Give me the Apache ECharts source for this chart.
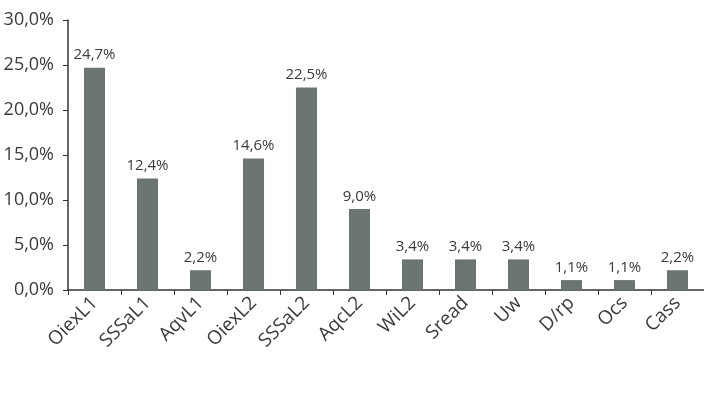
<!DOCTYPE html>
<html>
<head>
<meta charset="utf-8">
<script src="https://cdn.jsdelivr.net/npm/echarts@6/dist/echarts.min.js"></script>
<style>
  html, body { margin: 0; padding: 0; background: #fff; }
  #chart { width: 704px; height: 402px; }
</style>
</head>
<body>
<div id="chart"></div>
<script>
const categories = ['OiexL1', 'SSSaL1', 'AqvL1', 'OiexL2', 'SSSaL2', 'AqcL2', 'WiL2', 'Sread', 'Uw', 'D/rp', 'Ocs', 'Cass']
const shares = [24.7, 12.4, 2.2, 14.6, 22.5, 9.0, 3.4, 3.4, 3.4, 1.1, 1.1, 2.2]

const fmt = (v, d) => v.toFixed(d).replace('.', ',') + '%'

const chart = echarts.init(document.getElementById('chart'))
chart.setOption({
  animation: false,
  textStyle: { fontFamily: 'Open Sans' },
  grid: { left: 68, right: -1, top: 20, bottom: 112 },
  xAxis: {
    type: 'category',
    data: categories,
    axisLine: { lineStyle: { color: '#333', width: 1.5 } },
    axisTick: { show: true, length: 5, lineStyle: { color: '#333' } },
    axisLabel: {
      interval: 0,
      rotate: 45,
      color: '#3a3a3a',
      fontSize: 19,
      margin: 10,
    },
  },
  yAxis: {
    type: 'value',
    min: 0,
    max: 30,
    interval: 5,
    splitLine: { show: false },
    axisLine: { show: true, lineStyle: { color: '#333', width: 1.5 } },
    axisTick: { show: true, length: 5, lineStyle: { color: '#333' } },
    axisLabel: {
      color: '#3a3a3a',
      fontSize: 18,
      margin: 14,
      formatter: (v) => fmt(v, 1),
    },
  },
  series: [
    {
      type: 'bar',
      data: shares,
      barWidth: 21,
      itemStyle: { color: '#6b7572' },
      label: {
        show: true,
        position: 'top',
        color: '#3a3a3a',
        fontSize: 15,
        distance: 5,
        formatter: (p) => fmt(p.value, 1),
      },
    },
  ],
})
</script>
</body>
</html>
